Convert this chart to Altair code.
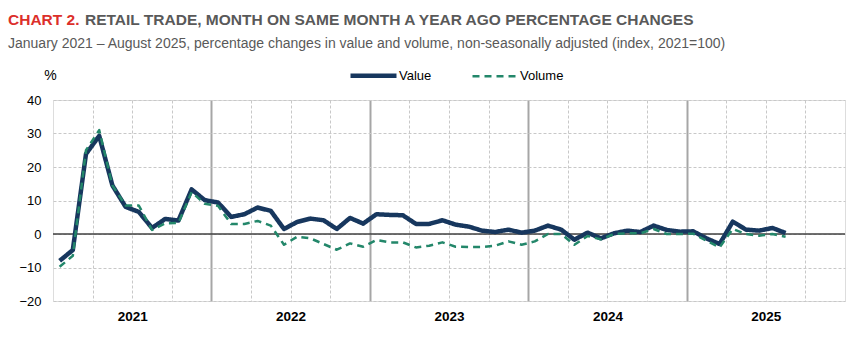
import altair as alt
import pandas as pd

# ---- data (Jan 2021 .. Aug 2025), % change on same month a year ago ----
value = [-8.0, -4.8, 23.9, 29.3, 14.5, 8.1, 6.6, 1.8, 4.5, 4.0, 13.3, 10.1,
         9.4, 5.1, 5.9, 7.9, 6.9, 1.5, 3.6, 4.6, 4.1, 1.5, 4.8, 3.1,
         5.9, 5.7, 5.6, 3.0, 3.0, 4.1, 2.8, 2.2, 1.0, 0.6, 1.3, 0.4,
         1.0, 2.5, 1.3, -1.7, 0.4, -1.3, 0.2, 1.0, 0.6, 2.5, 1.2, 0.7,
         0.8, -1.3, -3.0, 3.7, 1.3, 1.0, 1.8, 0.3]
volume = [-9.8, -6.5, 25.0, 31.0, 14.5, 8.5, 8.5, 1.2, 3.2, 3.3, 12.5, 9.0,
          8.4, 3.0, 3.0, 3.9, 2.5, -3.2, -0.8, -1.3, -3.0, -4.7, -2.8, -3.8,
          -1.8, -2.5, -2.5, -4.0, -3.5, -2.5, -3.8, -3.9, -3.9, -3.5, -2.2, -3.2,
          -2.2, 0.0, 0.0, -3.2, -0.6, -1.6, 0.0, 0.2, 0.2, 1.5, 0.0, 0.0,
          0.1, -2.0, -4.0, 1.5, 0.0, -0.5, 0.0, -0.8]
series_names = ["Value", "Volume"]
years = [2021, 2022, 2023, 2024, 2025]
y_ticks = [-20, -10, 0, 10, 20, 30, 40]

rows = []
for name, vals in zip(series_names, [value, volume]):
    for i, v in enumerate(vals):
        rows.append({"series": name, "m": i + 0.5, "v": v})
df = pd.DataFrame(rows)

FONT = "Liberation Sans, Arial, sans-serif"
NAVY = "#17375e"
GREEN = "#23876a"

x_scale = alt.Scale(domain=[0, 12 * len(years)], nice=False, zero=False)
y_scale = alt.Scale(domain=[-20, 40], nice=False, zero=False)

x_axis = alt.Axis(
    values=list(range(3, 12 * len(years), 3)),
    labelExpr="datum.value % 12 === 6 ? '' + (2021 + floor(datum.value / 12)) : ''",
    labelOverlap=False, labelFlush=False,
    labelFont=FONT, labelFontSize=13.5, labelFontWeight="bold", labelColor="#000000",
    labelPadding=8, ticks=False, domain=False, title=None,
    grid=True,
    gridColor={"condition": {"test": "datum.value % 12 === 0", "value": "#a6a6a6"}, "value": "#c8c8c8"},
    gridDash={"condition": {"test": "datum.value % 12 === 0", "value": []}, "value": [3, 2]},
    gridWidth={"condition": {"test": "datum.value % 12 === 0", "value": 2}, "value": 1},
)
y_axis = alt.Axis(
    values=y_ticks, title="%", titleAngle=0, titleX=-3, titleY=-25,
    titleAlign="center", titleBaseline="middle", titleFont=FONT, titleFontSize=14,
    titleFontWeight="normal", titleColor="#000000",
    labelFont=FONT, labelFontSize=13, labelColor="#000000", labelPadding=12,
    ticks=False, domain=False, grid=True, gridColor="#c8c8c8", gridDash=[3, 2], gridWidth=1,
)

legend = alt.Legend(
    orient="none", legendX=295, legendY=-50, direction="horizontal", title=None,
    symbolType="stroke", symbolSize=2116, labelFont=FONT, labelFontSize=13,
    labelColor="#000000", labelOffset=0, columnPadding=35,
)

zero = alt.Chart(pd.DataFrame({"z": [0]})).mark_rule(color="#404040", strokeWidth=1.5).encode(
    y=alt.Y("z:Q", scale=y_scale, axis=y_axis)
)

lines = alt.Chart(df).mark_line(strokeJoin="round").encode(
    x=alt.X("m:Q", scale=x_scale, axis=x_axis),
    y=alt.Y("v:Q", scale=y_scale, axis=y_axis),
    color=alt.Color("series:N", scale=alt.Scale(domain=series_names, range=[NAVY, GREEN]), legend=legend),
    strokeDash=alt.StrokeDash("series:N", scale=alt.Scale(domain=series_names, range=[[1, 0], [7, 5]]), legend=legend),
    strokeWidth=alt.StrokeWidth("series:N", scale=alt.Scale(domain=series_names, range=[4.5, 2.5]), legend=legend),
)

TS = 15.5
t1 = alt.Chart(pd.DataFrame({"t": ["CHART 2."]})).mark_text(
    align="left", baseline="middle", font=FONT, fontSize=TS, fontWeight="bold", color="#dc2f2a"
).encode(text="t:N", x=alt.value(-45), y=alt.value(-80))
t2 = alt.Chart(pd.DataFrame({"t": ["RETAIL TRADE, MONTH ON SAME MONTH A YEAR AGO PERCENTAGE CHANGES"]})).mark_text(
    align="left", baseline="middle", font=FONT, fontSize=TS, fontWeight="bold", color="#595959"
).encode(text="t:N", x=alt.value(32), y=alt.value(-80))
t3 = alt.Chart(pd.DataFrame({"t": ["January 2021 \u2013 August 2025, percentage changes in value and volume, non-seasonally adjusted (index, 2021=100)"]})).mark_text(
    align="left", baseline="middle", font=FONT, fontSize=14, color="#595959"
).encode(text="t:N", x=alt.value(-45), y=alt.value(-56))

chart = alt.layer(zero, lines, t1, t2, t3).properties(
    width=792, height=201,
    autosize=alt.AutoSizeParams(type="none"),
    padding={"left": 53, "top": 100, "right": 21, "bottom": 37},
).configure_view(stroke="#d9d9d9", strokeWidth=2).configure(background="white")

chart.save("out.html", embed_options={"renderer": "svg", "actions": False})
